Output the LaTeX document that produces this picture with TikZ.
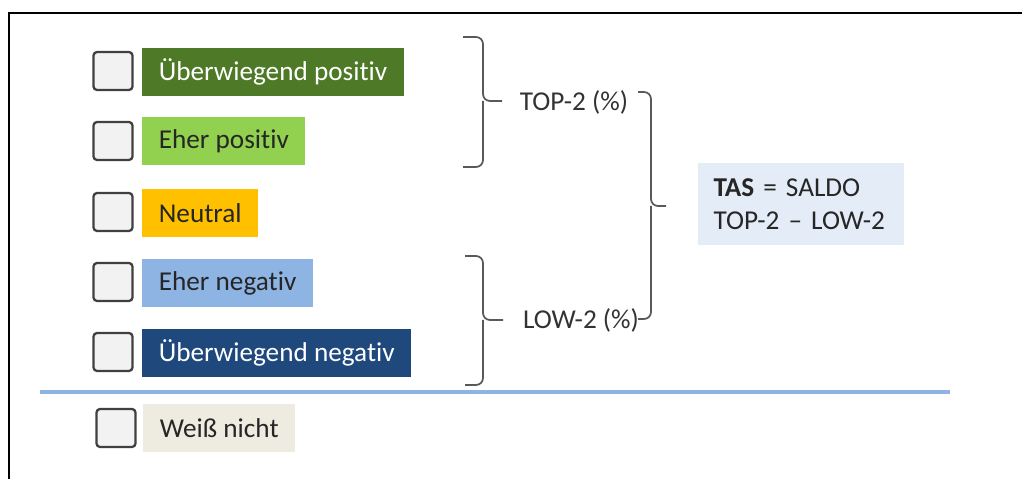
\documentclass[tikz,border=0pt]{standalone}
\usepackage{fontspec}
\setmainfont{Carlito}[RawFeature=-liga]
\usepackage{tikz}
\usetikzlibrary{positioning}
\usepackage{xcolor}
\definecolor{dgreen}{HTML}{4E7A27}
\definecolor{lgreen}{HTML}{92D050}
\definecolor{amber}{HTML}{FFC000}
\definecolor{lblue}{HTML}{8EB4E3}
\definecolor{dblue}{HTML}{1F497D}
\definecolor{beige}{HTML}{EEECE1}
\definecolor{tasbg}{HTML}{E4ECF7}
\definecolor{boxgray}{HTML}{F2F2F2}
\definecolor{ink}{HTML}{262626}

\begin{document}
\begin{tikzpicture}[x=0.02cm,y=-0.02cm,font=\fontsize{15.5}{18}\selectfont,
  chk/.style={draw=black!75,fill=boxgray,line width=1.3pt,rounded corners=2pt,
    minimum width=0.78cm,minimum height=0.76cm,inner sep=0pt},
  lbl/.style={anchor=west,minimum height=0.98cm,inner xsep=0.33cm,text=ink},
  brc/.style={draw=black!65,line width=1pt,rounded corners=4pt},
  brtext/.style={text=black!80}]
\useasboundingbox (0,0) rectangle (1022,479);
\draw[line width=1.6pt] (9,481) -- (9,13) -- (1024,13);
% answer scale
\node[chk] (c1) at (113,71) {};
\node[chk] (c2) at (113,141) {};
\node[chk] (c3) at (113,212) {};
\node[chk] (c4) at (113,282) {};
\node[chk] (c5) at (113,352) {};
\node[chk] (c6) at (116,428) {};
\node[lbl,fill=dgreen,text=white] (o1) at (142,72) {Überwiegend positiv};
\node[lbl,fill=lgreen] (o2) at (142,141) {Eher positiv};
\node[lbl,fill=amber] (o3) at (142,213) {Neutral};
\node[lbl,fill=lblue] (o4) at (142,283) {Eher negativ};
\node[lbl,fill=dblue,text=white] (o5) at (142,353) {Überwiegend negativ};
\node[lbl,fill=beige] (o6) at (143,428) {Weiß nicht};
\draw[lblue,line width=2.2pt] (40,392) -- (950,392);
% braces
\node[brtext] (top2) at (574,102) {TOP-2 (\%)};
\node[brtext] (low2) at (581,320) {LOW-2 (\%)};
\draw[brc] (463,37) -| (483,101) -- (502,101) (483,101) |- (463,167);
\draw[brc] (465,256) -| (483,320) -- (503,320) (483,320) |- (465,385);
\draw[brc] (638,92) -| (651,206) -- (666,206) (651,206) |- (638,319);
\node[fill=tasbg,minimum width=4.14cm,minimum height=1.64cm,align=left,
  text=ink,text width=3.5cm] (tas) at (801,204)
  {\textbf{TAS} = SALDO\\[1pt]TOP-2 – LOW-2};
\end{tikzpicture}
\end{document}
